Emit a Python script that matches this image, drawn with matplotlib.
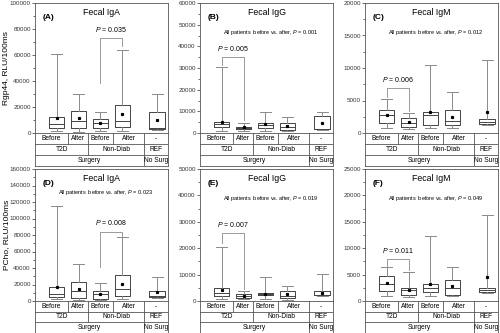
import matplotlib
matplotlib.use("Agg")
import matplotlib.pyplot as plt
from matplotlib.ticker import MultipleLocator

plt.rcParams['font.family'] = ['Liberation Sans', 'DejaVu Sans']
plt.rcParams['mathtext.fontset'] = 'custom'
plt.rcParams['mathtext.rm'] = 'Liberation Sans'
plt.rcParams['mathtext.it'] = 'Liberation Sans:italic'

# groups along the x axis
groups = ["Before", "After", "Before", "After", "-"]
subgroups = ["T2D", "Non-Diab", "REF"]
surgery = ["Surgery", "No Surg"]

# box statistics per group: low whisker, q1, median, q3, high whisker, mean
iga_rgp = [(1500, 3500, 7000, 12500, 61000, 11500),
           (1000, 3500, 9500, 17000, 30000, 11500),
           (1500, 4000, 7500, 10500, 16500, 7500),
           (1500, 4500, 9500, 21500, 64000, 15000),
           (2000, 3000, 4000, 16000, 30000, 10000)]
igg_rgp = [(1000, 2800, 4000, 5300, 30500, 5000),
           (1000, 1800, 2500, 3000, 4600, 2700),
           (1000, 2500, 3500, 4800, 9500, 4000),
           (1000, 1500, 2600, 4700, 7200, 3300),
           (1500, 1900, 2000, 7800, 9800, 4500)]
igm_rgp = [(700, 1600, 2800, 3600, 5300, 2800),
           (600, 1000, 1600, 2300, 3100, 1700),
           (800, 1300, 2700, 3300, 10500, 3200),
           (800, 1250, 1900, 3600, 6300, 2500),
           (1300, 1400, 1700, 2200, 11200, 3200)]
iga_pcho = [(2000, 5000, 8500, 17000, 115000, 17000),
            (1000, 4000, 12000, 23000, 45000, 15000),
            (1500, 3000, 8500, 12000, 22000, 9000),
            (2000, 6000, 15000, 31000, 77000, 21000),
            (4000, 5000, 6000, 12500, 29000, 11000)]
igg_pcho = [(900, 2000, 3200, 4800, 20500, 4300),
            (600, 1200, 2000, 2800, 3800, 2000),
            (800, 2200, 2600, 3000, 9000, 2800),
            (500, 1000, 2000, 3600, 5800, 2500),
            (1800, 2100, 2200, 3700, 10200, 3000)]
igm_pcho = [(900, 1800, 3300, 4700, 6500, 3400),
            (700, 1200, 2000, 2500, 5500, 2100),
            (900, 1700, 2500, 3200, 12300, 3200),
            (900, 1100, 2500, 4000, 6500, 2900),
            (1600, 1700, 2000, 2500, 16200, 4500)]

panel_data = [iga_rgp, igg_rgp, igm_rgp, iga_pcho, igg_pcho, igm_pcho]
panel_tags = ["(A)", "(B)", "(C)", "(D)", "(E)", "(F)"]
panel_titles = ["Fecal IgA", "Fecal IgG", "Fecal IgM", "Fecal IgA", "Fecal IgG", "Fecal IgM"]
y_max = [100000, 60000, 20000, 160000, 50000, 25000]
y_step = [20000, 10000, 5000, 20000, 10000, 5000]
row_labels = ["Rgp44, RLU/100ms", "PCho, RLU/100ms"]
all_p = [None, "0.001", "0.012", "0.023", "0.019", "0.049"]

# pairwise comparison: group i, group j, left leg end, bracket top, right leg end, p
pair_tests = [(3, 4, 38500, 72800, 67000, "0.035"),
              (1, 2, 31500, 35000, 6000, "0.005"),
              (1, 2, 5500, 6900, 3400, "0.006"),
              (3, 4, 41000, 83600, 79000, "0.008"),
              (1, 2, 22000, 25600, 4500, "0.007"),
              (1, 2, 6700, 7900, 5800, "0.011")]

positions = [1, 2, 3, 4, 5.6]

W, H = 500, 333
fig = plt.figure(figsize=(5, 3.33), dpi=100)

col_left = [35, 200, 365]
row_top = [3, 169]
row_zero = [133, 301]
row_bottom = [166, 333]
pw = 133

edge = "#444444"
whisk = "#8a8a8a"

for k in range(6):
    r, c = divmod(k, 3)
    left = col_left[c] / W
    ax = fig.add_axes([left, 1 - row_zero[r] / H, pw / W, (row_zero[r] - row_top[r]) / H])
    tb = fig.add_axes([left, 1 - row_bottom[r] / H, pw / W, (row_bottom[r] - row_zero[r]) / H])

    stats = []
    for lo, q1, med, q3, hi, mean in panel_data[k]:
        stats.append(dict(whislo=lo, q1=q1, med=med, q3=q3, whishi=hi, mean=mean, fliers=[]))
    ax.bxp(stats, positions=positions, widths=0.7, showmeans=True, showfliers=False,
           boxprops=dict(color=edge, linewidth=0.7),
           medianprops=dict(color=edge, linewidth=0.7),
           whiskerprops=dict(color=whisk, linewidth=0.7),
           capprops=dict(color=whisk, linewidth=0.7),
           capwidths=0.5,
           meanprops=dict(marker="s", markersize=1.3, markerfacecolor="black",
                          markeredgecolor="black"))
    ax.set_xlim(0, 6.1)
    ax.set_ylim(0, y_max[k])
    ax.set_xticks([])
    ax.yaxis.set_major_locator(MultipleLocator(y_step[k]))
    ax.yaxis.set_minor_locator(MultipleLocator(y_step[k] / 2))
    ax.tick_params(axis="y", which="major", labelsize=4.5, length=2, width=0.5,
                   pad=1, colors="#333333")
    ax.tick_params(axis="y", which="minor", length=1.2, width=0.5, colors="#333333")
    for s in ax.spines.values():
        s.set_linewidth(0.6)
        s.set_color("#555555")

    ax.text(0.06, 0.89, panel_tags[k], transform=ax.transAxes, fontsize=6,
            fontweight="bold", va="center", ha="left")
    ax.text(0.5, 0.925, panel_titles[k], transform=ax.transAxes, fontsize=6.3,
            va="center", ha="center")
    if all_p[k]:
        ay = 0.82 if k == 3 else 0.775
        ax.text(0.53, ay, "All patients  before vs. after, $P$ = " + all_p[k],
                transform=ax.transAxes, fontsize=4.0, va="center", ha="center")

    i, j, l1, top, l2, p = pair_tests[k]
    xi, xj = positions[i - 1], positions[j - 1]
    ax.plot([xi, xi, xj, xj], [l1, top, top, l2], color=whisk, linewidth=0.6)
    ax.text((xi + xj) / 2, top + y_max[k] * 0.035, "$P$ = " + p, fontsize=5,
            ha="center", va="bottom")

    if c == 0:
        ax.set_ylabel(row_labels[r], fontsize=6)
        ax.yaxis.set_label_coords(-0.19, 0.5)

    # category table under the plot
    tb.set_xlim(0, 1)
    tb.set_ylim(0, 3)
    tb.set_xticks([])
    tb.set_yticks([])
    for s in tb.spines.values():
        s.set_linewidth(0.6)
        s.set_color("#555555")
    tb.axhline(1, color="#555555", linewidth=0.6)
    tb.axhline(2, color="#555555", linewidth=0.6)
    bounds1 = [0, 0.25, 0.40, 0.586, 0.82, 1]
    bounds2 = [0, 0.40, 0.82, 1]
    bounds3 = [0, 0.82, 1]
    for b in bounds1[1:-1]:
        tb.plot([b, b], [2, 3], color="#555555", linewidth=0.6)
    for b in bounds2[1:-1]:
        tb.plot([b, b], [1, 2], color="#555555", linewidth=0.6)
    for b in bounds3[1:-1]:
        tb.plot([b, b], [0, 1], color="#555555", linewidth=0.6)
    for n, g in enumerate(groups):
        tb.text((bounds1[n] + bounds1[n + 1]) / 2, 2.5, g, fontsize=4.8,
                ha="center", va="center", clip_on=True)
    for n, g in enumerate(subgroups):
        tb.text((bounds2[n] + bounds2[n + 1]) / 2, 1.5, g, fontsize=4.8,
                ha="center", va="center", clip_on=True)
    for n, g in enumerate(surgery):
        tb.text((bounds3[n] + bounds3[n + 1]) / 2, 0.5, g, fontsize=4.8,
                ha="center", va="center", clip_on=True)

fig.savefig("out.png", dpi=100)
